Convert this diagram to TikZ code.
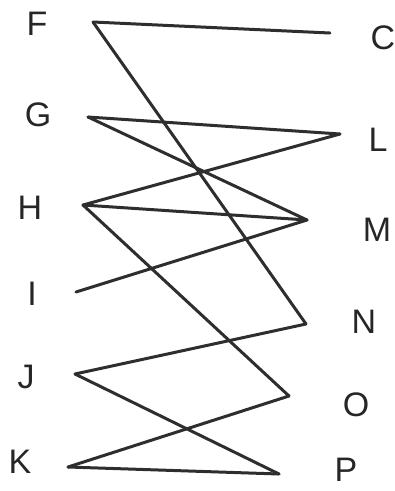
\documentclass[tikz,border=0pt]{standalone}
\usepackage{fontspec}
\setmainfont{Liberation Sans}
\begin{document}
\begin{tikzpicture}[x=1pt,y=-1pt,
  lbl/.style={font=\fontsize{34}{36}\selectfont, text=black!85, inner sep=0pt},
  edge/.style={draw=black!82, line width=3pt, line cap=round}]
\useasboundingbox (0,0) rectangle (395,491);
% labels
\node[lbl] (lF) at (37,24) {F};
\node[lbl] (lG) at (38,115) {G};
\node[lbl] (lH) at (30,208) {H};
\node[lbl] (lI) at (32,294) {I};
\node[lbl] (lJ) at (26,377) {J};
\node[lbl] (lK) at (20,462) {K};
\node[lbl] (lC) at (383,38) {C};
\node[lbl] (lL) at (378,140) {L};
\node[lbl] (lM) at (377,230) {M};
\node[lbl] (lN) at (364,322) {N};
\node[lbl] (lO) at (356,405) {O};
\node[lbl] (lP) at (346,470) {P};
% endpoints
\coordinate (F) at (93,22);
\coordinate (G) at (88,117);
\coordinate (H) at (83,205);
\coordinate (I) at (76,292);
\coordinate (J) at (75,374);
\coordinate (K) at (68,467);
\coordinate (C) at (330,33);
\coordinate (L) at (340,134);
\coordinate (M) at (307,220);
\coordinate (N) at (306,324);
\coordinate (O) at (289,396);
\coordinate (P) at (279,474);
% edges
\draw[edge] (F) -- (C);
\draw[edge] (F) -- (N);
\draw[edge] (G) -- (L);
\draw[edge] (G) -- (M);
\draw[edge] (H) -- (L);
\draw[edge] (H) -- (M);
\draw[edge] (H) -- (O);
\draw[edge] (I) -- (M);
\draw[edge] (J) -- (N);
\draw[edge] (J) -- (P);
\draw[edge] (K) -- (O);
\draw[edge] (K) -- (P);
\end{tikzpicture}
\end{document}
